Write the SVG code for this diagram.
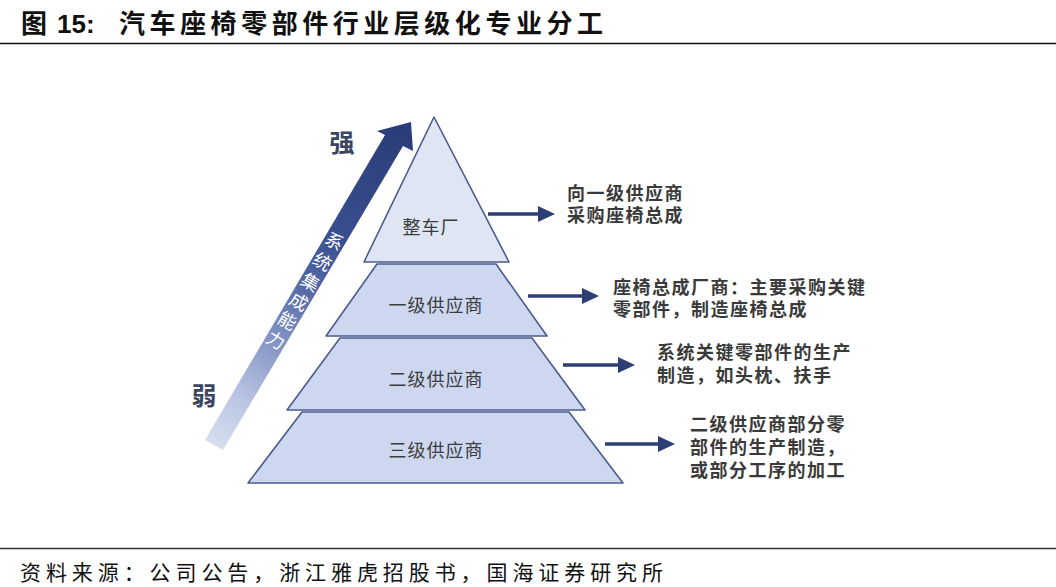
<svg xmlns="http://www.w3.org/2000/svg" width="1056" height="587" viewBox="0 0 1056 587">
<style>
.cjk{font-family:"Noto Sans CJK SC","Noto Sans",sans-serif;}
.title{font-size:26px;font-weight:bold;fill:#111;}
.tier-top{fill:#dfe5f3;stroke:#4a5c8e;stroke-width:1.6;stroke-linejoin:round;}
.tier{fill:#cdd8f0;stroke:#4a5c8e;stroke-width:1.6;stroke-linejoin:round;}
.tlabel{font-size:18px;fill:#3c3c3c;text-anchor:middle;letter-spacing:1px;}
.desc{font-size:18px;font-weight:bold;fill:#3a3a3a;letter-spacing:1.5px;}
.conn{stroke:#2c3e73;stroke-width:3.5;fill:none;marker-end:url(#ah);}
.axis{font-size:18px;fill:#ffffff;text-anchor:middle;dominant-baseline:central;}
.sw{font-size:25px;font-weight:bold;fill:#3b4660;text-anchor:middle;}
.src{font-size:21px;fill:#111;}
</style>
<defs>
<marker id="ah" markerUnits="userSpaceOnUse" markerWidth="17" markerHeight="16" viewBox="0 0 17 16" refX="1" refY="8" orient="auto">
<path d="M0,0 L17,8 L0,16 z" fill="#2c3e73"/>
</marker>
<linearGradient id="gArrow" gradientUnits="userSpaceOnUse" x1="214" y1="445" x2="405" y2="130">
<stop offset="0" stop-color="#d6deef"/>
<stop offset="0.15" stop-color="#b8c4e2"/>
<stop offset="0.32" stop-color="#8595c5"/>
<stop offset="0.5" stop-color="#5468a6"/>
<stop offset="0.65" stop-color="#3a4f90"/>
<stop offset="1" stop-color="#2a3d78"/>
</linearGradient>
</defs>
<rect width="1056" height="587" fill="#ffffff"/>

<g id="title">
<text class="cjk title" x="21" y="33">图</text>
<text x="57" y="33" style="font-family:'Liberation Sans',Arial,sans-serif;font-size:26px;font-weight:bold;fill:#111;">15:</text>
<text class="cjk title" x="119" y="33" textLength="484" lengthAdjust="spacing">汽车座椅零部件行业层级化专业分工</text>
<line x1="0" y1="43.5" x2="1056" y2="43.5" stroke="#111" stroke-width="1.6"/>
</g>

<g id="capability-arrow">
<polygon points="205,440 385,135 377,131 411,122 413,151 403,146 223,450" fill="url(#gArrow)"/>
<text class="cjk axis" transform="translate(335,240) rotate(30)">系</text>
<text class="cjk axis" transform="translate(323,260.5) rotate(30)">统</text>
<text class="cjk axis" transform="translate(311,281) rotate(30)">集</text>
<text class="cjk axis" transform="translate(299.5,300.5) rotate(30)">成</text>
<text class="cjk axis" transform="translate(288,319.5) rotate(30)">能</text>
<text class="cjk axis" transform="translate(276.5,339) rotate(30)">力</text>
</g>
<g id="label-strong"><text class="cjk sw" x="342" y="152">强</text></g>
<g id="label-weak"><text class="cjk sw" x="204" y="405">弱</text></g>

<g id="tier-oem">
<polygon class="tier-top" points="434,117 509,262 364,262"/>
<text class="cjk tlabel" x="431" y="234">整车厂</text>
</g>
<g id="tier-1">
<polygon class="tier" points="377,264 496,264 547,336 326,336"/>
<text class="cjk tlabel" x="436" y="312">一级供应商</text>
</g>
<g id="tier-2">
<polygon class="tier" points="340,338 532,338 585,410 287,410"/>
<text class="cjk tlabel" x="436" y="386">二级供应商</text>
</g>
<g id="tier-3">
<polygon class="tier" points="302,412 569,412 623,483 248,483"/>
<text class="cjk tlabel" x="436" y="457">三级供应商</text>
</g>

<g id="connectors">
<line class="conn" x1="488" y1="214" x2="539" y2="214"/>
<line class="conn" x1="528" y1="296" x2="583" y2="296"/>
<line class="conn" x1="563" y1="365" x2="619" y2="365"/>
<line class="conn" x1="605" y1="444" x2="659" y2="444"/>
</g>

<g id="desc-oem">
<text class="cjk desc" x="567" y="200">向一级供应商</text>
<text class="cjk desc" x="567" y="222">采购座椅总成</text>
</g>
<g id="desc-tier1">
<text class="cjk desc" x="613" y="294">座椅总成厂商：主要采购关键</text>
<text class="cjk desc" x="613" y="316">零部件，制造座椅总成</text>
</g>
<g id="desc-tier2">
<text class="cjk desc" x="657" y="359">系统关键零部件的生产</text>
<text class="cjk desc" x="657" y="382">制造，如头枕、扶手</text>
</g>
<g id="desc-tier3">
<text class="cjk desc" x="690" y="431">二级供应商部分零</text>
<text class="cjk desc" x="690" y="454">部件的生产制造，</text>
<text class="cjk desc" x="690" y="477">或部分工序的加工</text>
</g>

<g id="source">
<line x1="0" y1="548.5" x2="1056" y2="548.5" stroke="#333" stroke-width="1.6"/>
<text class="cjk src" x="20" y="580" textLength="643" lengthAdjust="spacing">资料来源：公司公告，浙江雅虎招股书，国海证券研究所</text>
</g>
</svg>
